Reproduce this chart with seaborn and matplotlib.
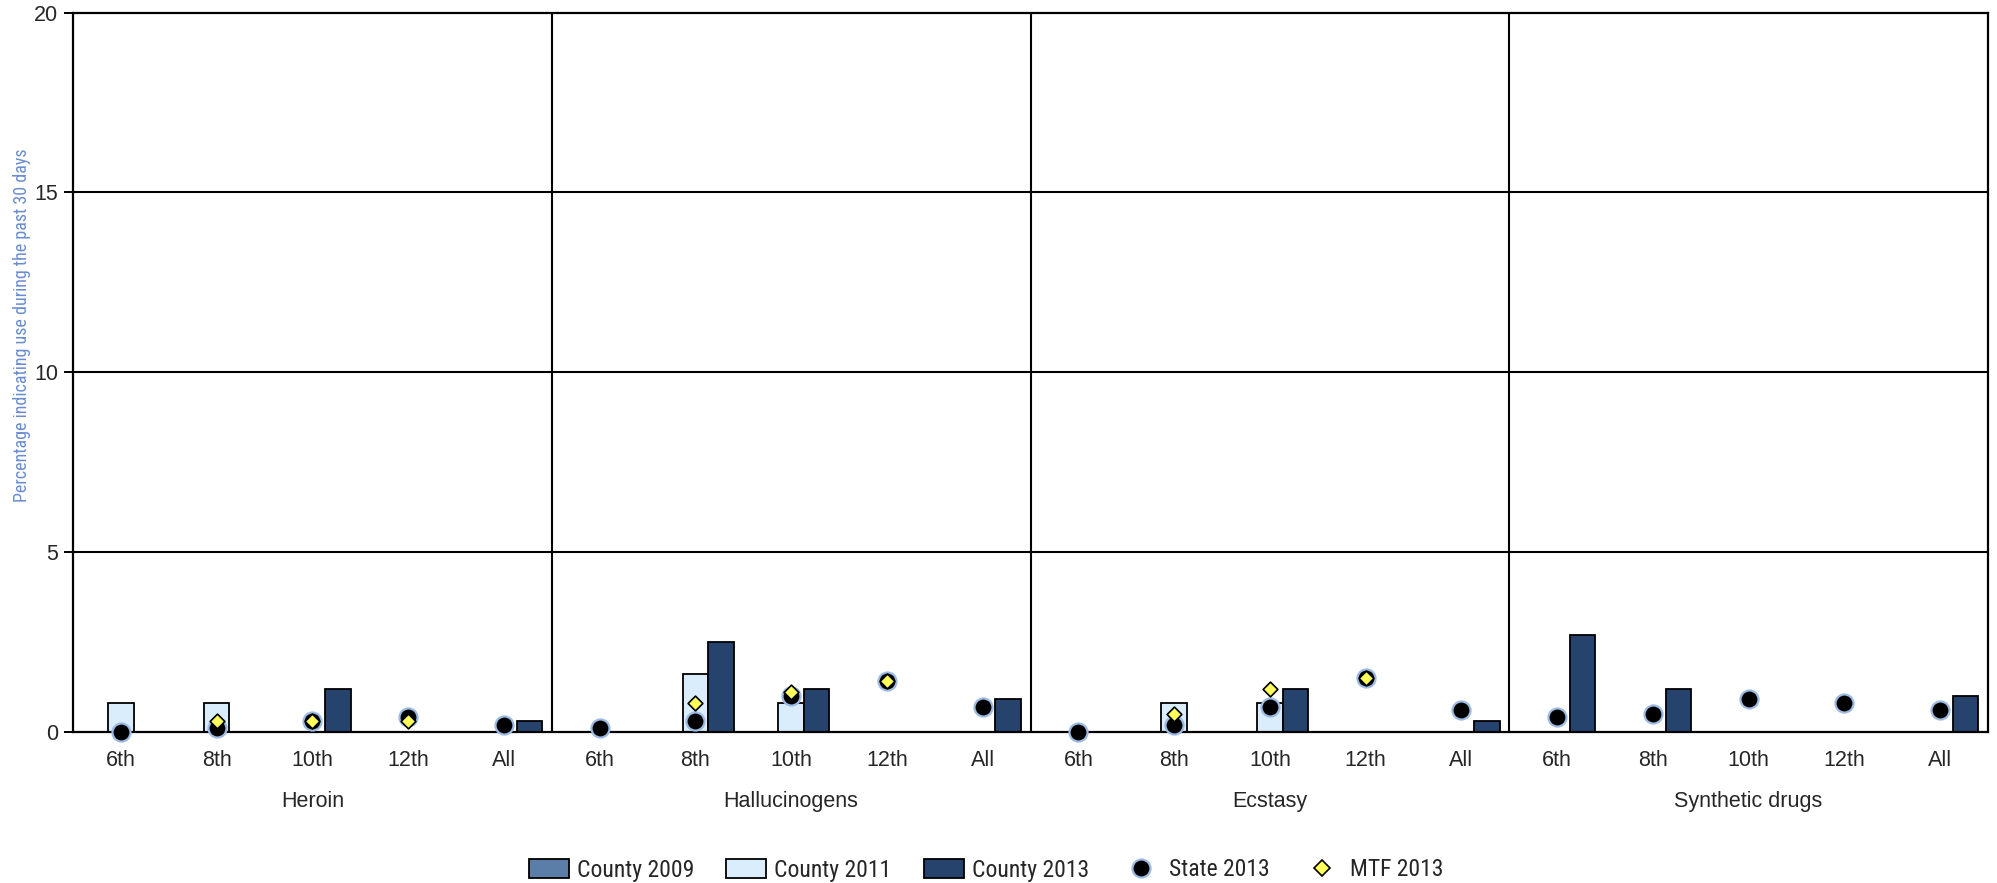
import numpy as np
import pandas as pd
import matplotlib
matplotlib.use("Agg")
import matplotlib.pyplot as plt
import matplotlib.transforms as mtransforms
from matplotlib.patches import Patch
from matplotlib.lines import Line2D
from matplotlib import font_manager
import seaborn as sns

# ---------------- data ----------------
drugs = ["Heroin", "Hallucinogens", "Ecstasy", "Synthetic drugs"]
grades = ["6th", "8th", "10th", "12th", "All"]
nan = np.nan

county_2009 = [nan] * 20
county_2011 = [0.8, 0.8, nan, nan, nan,
               nan, 1.6, 0.8, nan, nan,
               nan, 0.8, 0.8, nan, nan,
               nan, nan, nan, nan, nan]
county_2013 = [nan, nan, 1.2, nan, 0.3,
               nan, 2.5, 1.2, nan, 0.9,
               nan, nan, 1.2, nan, 0.3,
               2.7, 1.2, nan, nan, 1.0]
state_2013 = [0.0, 0.1, 0.3, 0.4, 0.2,
              0.1, 0.3, 1.0, 1.4, 0.7,
              0.0, 0.2, 0.7, 1.5, 0.6,
              0.4, 0.5, 0.9, 0.8, 0.6]
mtf_2013 = [nan, 0.3, 0.3, 0.3, nan,
            nan, 0.8, 1.1, 1.4, nan,
            nan, 0.5, 1.2, 1.5, nan,
            nan, nan, nan, nan, nan]

series_names = ["County 2009", "County 2011", "County 2013"]
series_colors = ["#5a7ea8", "#daedfd", "#25436d"]
y_ticks = [0, 5, 10, 15, 20]
y_label = "Percentage indicating use during the past 30 days"

# ---------------- style ----------------
sns.set_style("white")
available = {f.name for f in font_manager.fontManager.ttflist}
narrow = next((f for f in ["Liberation Sans Narrow", "Roboto Condensed",
                           "Open Sans Condensed", "Liberation Sans"] if f in available),
              "DejaVu Sans")
main_font = "Liberation Sans" if "Liberation Sans" in available else "DejaVu Sans"
plt.rcParams["font.family"] = [main_font, "DejaVu Sans"]

keys = [f"{d}|{g}" for d in drugs for g in grades]

rows = []
for name, vals in zip(series_names, [county_2009, county_2011, county_2013]):
    for k, v in zip(keys, vals):
        rows.append({"key": k, "series": name, "value": v})
bars_df = pd.DataFrame(rows)

fig = plt.figure(figsize=(19.97, 8.83), dpi=100)
ax = fig.add_axes([73 / 1997, 1 - 731.7 / 883, (1988 - 73) / 1997, (731.7 - 12.7) / 883])

sns.barplot(data=bars_df, x="key", y="value", hue="series", order=keys,
            hue_order=series_names, palette=dict(zip(series_names, series_colors)),
            saturation=1, errorbar=None, width=0.8, edgecolor="black",
            linewidth=1.3, legend=False, ax=ax, zorder=2)

sns.stripplot(x=keys, y=state_2013, order=keys, jitter=False, color="black",
              size=13, edgecolor="#9dbbe3", linewidth=1.6, ax=ax,
              zorder=3, clip_on=False)
sns.stripplot(x=keys, y=mtf_2013, order=keys, jitter=False, marker="D",
              color="#ffff5c", size=7.5, edgecolor="black", linewidth=1.2,
              ax=ax, zorder=4, clip_on=False)

ax.set_xlim(-0.5, 19.5)
ax.set_ylim(0, 20)
ax.set_xlabel("")
ax.set_ylabel("")
ax.set_yticks(y_ticks)
ax.set_yticklabels([str(t) for t in y_ticks])
ax.set_xticks(range(20))
ax.set_xticklabels(grades * len(drugs))
ax.set_xticks(np.arange(-0.5, 20, 1), minor=True)
ax.tick_params(axis="x", which="major", length=0, pad=13, labelsize=15.5)
ax.tick_params(axis="x", which="minor", length=7.5, width=1.4, direction="out", color="black")
ax.tick_params(axis="y", length=6.5, width=1.4, pad=4, labelsize=15.5, color="black", left=True)

for s in ax.spines.values():
    s.set_visible(True)
    s.set_color("black")
    s.set_linewidth(1.6)

for v in y_ticks[1:-1]:
    ax.axhline(v, color="black", lw=1.5, zorder=0.5)
for i in range(1, len(drugs)):
    ax.axvline(i * len(grades) - 0.5, color="black", lw=1.5, zorder=0.5)

trans = mtransforms.blended_transform_factory(ax.transData, fig.transFigure)
for i, d in enumerate(drugs):
    ax.text(i * len(grades) + (len(grades) - 1) / 2, 1 - 801.7 / 883, d,
            transform=trans, ha="center", va="center", fontsize=15.5)

fig.text(21.7 / 1997, 1 - 325 / 883, y_label, rotation=90, ha="center",
         va="center", color="#6a8cd0", fontsize=13, family=[narrow, "DejaVu Sans"])

handles = [Patch(facecolor=c, edgecolor="black", linewidth=1.3) for c in series_colors]
handles += [Line2D([], [], marker="o", ls="", markersize=13, markerfacecolor="black",
                   markeredgecolor="#9dbbe3", markeredgewidth=1.6),
            Line2D([], [], marker="D", ls="", markersize=8, markerfacecolor="#ffff5c",
                   markeredgecolor="black", markeredgewidth=1.2)]
labels = series_names + ["State 2013", "MTF 2013"]
fig.legend(handles, labels, loc="center", bbox_to_anchor=(986 / 1997, 1 - 870 / 883),
           ncol=5, frameon=False, prop={"family": [narrow, "DejaVu Sans"], "size": 17},
           handlelength=1.7, handleheight=0.9, handletextpad=0.34, columnspacing=1.36,
           borderpad=0, borderaxespad=0)

fig.savefig("out.png", dpi=100)
